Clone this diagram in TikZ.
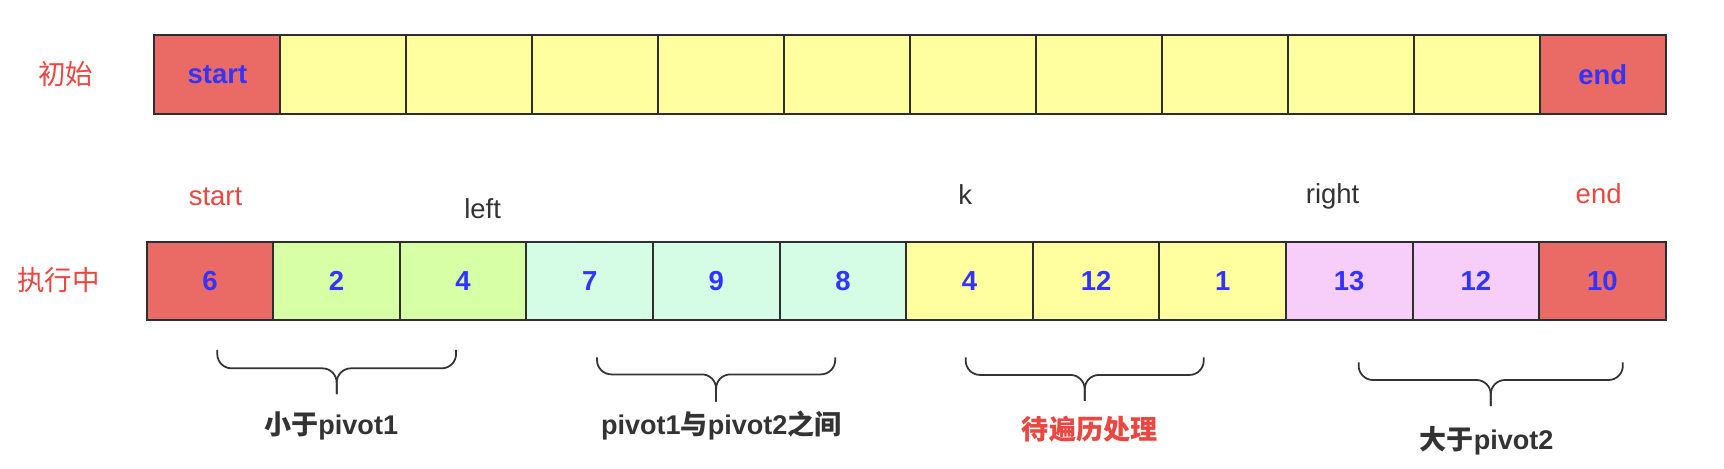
\documentclass[tikz,border=0pt]{standalone}
\usepackage{fontspec}
\setmainfont{Liberation Sans}
\newfontfamily\cjk{Noto Sans CJK SC}
\definecolor{redfill}{HTML}{EA6B66}
\definecolor{yellowfill}{HTML}{FFFFA0}
\definecolor{greenfill}{HTML}{D7FFA6}
\definecolor{mintfill}{HTML}{D5FDE5}
\definecolor{pinkfill}{HTML}{F6CEF9}
\definecolor{bluetxt}{HTML}{3333FF}
\definecolor{redtxt}{HTML}{EB4640}
\definecolor{darktxt}{HTML}{333333}
\definecolor{cellline}{HTML}{2E2E2E}
\begin{document}
\begin{tikzpicture}[x=1pt,y=-1pt,
  cell/.style={draw=cellline, line width=1.8pt, inner sep=0pt, anchor=center,
    font=\fontsize{25}{30}\selectfont\bfseries, text=bluetxt},
  topcell/.style={cell, minimum width=114.54pt, minimum height=72.5pt},
  botcell/.style={cell, minimum width=115.13pt, minimum height=71.2pt},
  redc/.style={fill=redfill},
  yelc/.style={fill=yellowfill},
  grnc/.style={fill=greenfill},
  mntc/.style={fill=mintfill},
  pnkc/.style={fill=pinkfill},
  lab/.style={inner sep=0pt, anchor=base, font=\fontsize{25}{30}\selectfont},
  rowlab/.style={lab, text=redtxt, font=\fontsize{25}{30}\selectfont\cjk},
  bracelab/.style={inner sep=0pt, anchor=base, font=\fontsize{24.6}{29}\selectfont\bfseries, text=darktxt},
  bracestyle/.style={draw=darktxt, line width=1.6pt, rounded corners=13pt}
]
\useasboundingbox (0,0) rectangle (1568,425.66);

% row labels
\node[rowlab] (rl1) at (59.6,77) {初始};
\node[rowlab] (rl2) at (53.4,264) {执行中};

% top row
\foreach \txt/\f [count=\i from 0] in {start/redc,/yelc,/yelc,/yelc,/yelc,/yelc,/yelc,/yelc,/yelc,/yelc,/yelc,end/redc}{
  \node[topcell,\f] (t\i) at ({140.5+114.54*(\i+0.5)},67.75) {\txt};
}

% bottom row
\foreach \txt/\f [count=\i from 0] in {6/redc,2/grnc,4/grnc,7/mntc,9/mntc,8/mntc,4/yelc,12/yelc,1/yelc,13/pnkc,12/pnkc,10/redc}{
  \node[botcell,\f] (b\i) at ({133.4+115.13*(\i+0.5)},255.4) {\txt};
}

% pointer labels
\node[lab, text=redtxt] (pstart) at (196,186.5) {start};
\node[lab, text=darktxt] (pleft) at (439,198.6) {left};
\node[lab, text=darktxt] (pk) at (877.8,185.8) {k};
\node[lab, text=darktxt] (pright) at (1212,184.9) {right};
\node[lab, text=redtxt] (pend) at (1454,184.9) {end};

% braces
\foreach \a/\b/\t/\h/\p in {197.6/414.8/318.3/335/358.4, 543/759.6/325/340.5/365.3, 878.3/1094.8/325/341/364.7, 1235.7/1476/329.5/345.6/369.3}{
  \draw[bracestyle] (\a,\t) -- (\a,\h) -- ({(\a+\b)/2},\h) -- ({(\a+\b)/2},\p);
  \draw[bracestyle] (\b,\t) -- (\b,\h) -- ({(\a+\b)/2},\h) -- ({(\a+\b)/2},\p);
}

% brace labels
\node[bracelab] (g1) at (301.2,395.6) {{\cjk 小于}pivot1};
\node[bracelab] (g2) at (656,395.6) {pivot1{\cjk 与}pivot2{\cjk 之间}};
\node[bracelab, text=redtxt] (g3) at (991,400) {{\cjk 待遍历处理}};
\node[bracelab] (g4) at (1352,408.7) {{\cjk 大于}pivot2};
\end{tikzpicture}
\end{document}
